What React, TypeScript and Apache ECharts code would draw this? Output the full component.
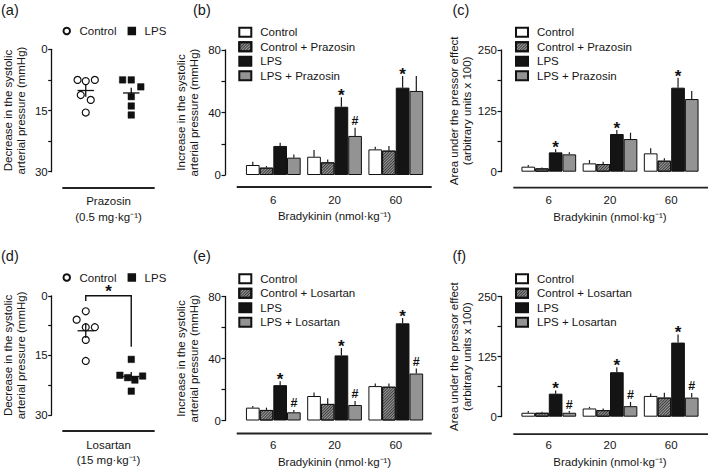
import React, { useEffect, useRef } from "react";
import * as echarts from "echarts";

// ---------------- data ----------------
const doses = ["6", "20", "60"];

// (a) Prazosin — individual animals: [x position (1 = Control, 2 = LPS, jittered), decrease mmHg]
const prazosinControlPoints = [[0.82, 7.5], [1.0, 7.8], [1.2, 7.5], [0.89, 11.2], [1.11, 12.4], [1.0, 15.5]];
const prazosinLpsPoints = [[1.81, 7.5], [2.0, 7.5], [2.21, 9.2], [2.0, 11.6], [2.0, 13.9], [2.0, 16.1]];
const prazosinMeanSem = [[1, 10.1, 1.5], [2, 10.7, 1.3]];

// (d) Losartan
const losartanControlPoints = [[1.0, 3.9], [0.8, 6.0], [1.0, 7.9], [1.2, 7.9], [1.0, 11.1], [1.0, 16.4]];
const losartanLpsPoints = [[2.0, 16.0], [1.75, 20.0], [1.92, 20.6], [2.08, 21.2], [2.25, 20.2], [2.0, 24.0]];
const losartanMeanSem = [[1, 8.8, 1.8], [2, 20.3, 1.1]];
const losartanBracket = [[1, 2, 0, 1.3, 12.8, -1.9]]; // x1, x2, top, left end, right end, star level

const decreaseTicks = [0, 15, 30];
const pressureTicks = [0, 40, 80];
const areaTicks = [0, 125, 250];

// (b) pressure, prazosin
const bControl = [6.4, 11.7, 16.4];
const bControlErr = [2.1, 4.3, 1.7];
const bControlPraz = [4.7, 8.1, 15.6];
const bControlPrazErr = [1.0, 1.9, 3.0];
const bLps = [18.6, 43.7, 55.9];
const bLpsErr = [2.1, 6.0, 7.5];
const bLpsPraz = [11.1, 25.0, 53.8];
const bLpsPrazErr = [2.1, 5.3, 9.6];
const bLpsMarks = ["", "*", "*"];
const bLpsPrazMarks = ["", "#", ""];

// (c) area, prazosin
const cControl = [10.3, 17.1, 37.7];
const cControlErr = [3.4, 6.8, 10.3];
const cControlPraz = [6.8, 15.8, 22.6];
const cControlPrazErr = [2.0, 4.8, 4.8];
const cLps = [39.7, 77.4, 172.6];
const cLpsErr = [6.2, 8.2, 20.5];
const cLpsPraz = [35.6, 67.1, 149.3];
const cLpsPrazErr = [4.1, 13.0, 16.4];
const cLpsMarks = ["*", "*", "*"];
const cLpsPrazMarks = ["", "", ""];

// (e) pressure, losartan
const eControl = [8.3, 15.8, 22.2];
const eControlErr = [1.1, 2.3, 1.7];
const eControlLos = [6.8, 10.7, 21.8];
const eControlLosErr = [1.5, 3.6, 2.1];
const eLps = [22.8, 42.0, 62.7];
const eLpsErr = [2.6, 4.7, 3.4];
const eLpsLos = [5.3, 10.0, 30.3];
const eLpsLosErr = [1.5, 2.6, 3.2];
const eLpsMarks = ["*", "*", "*"];
const eLpsLosMarks = ["#", "#", "#"];

// (f) area, losartan
const fControl = [8.2, 17.1, 43.2];
const fControlErr = [3.4, 3.4, 4.8];
const fControlLos = [8.2, 13.7, 39.7];
const fControlLosErr = [2.0, 3.4, 10.3];
const fLps = [47.9, 92.5, 154.1];
const fLpsErr = [6.8, 10.3, 17.1];
const fLpsLos = [8.2, 21.9, 39.7];
const fLpsLosErr = [3.4, 8.9, 9.6];
const fLpsMarks = ["*", "*", "*"];
const fLpsLosMarks = ["#", "#", "#"];

// ---------------- styling / layout ----------------
const FONT = "'Liberation Sans', Arial, Helvetica, sans-serif";
const INK = "#161616";
const FS = 11.5;
const ROW2 = 246.5;
const BAR_FRACTION = 0.2235;

const controlStyle = { color: "#ffffff", borderColor: "#111", borderWidth: 1 };
const hatchStyle = {
  color: "#9a9a9a",
  borderColor: "#111",
  borderWidth: 1,
  decal: {
    symbol: "rect",
    symbolSize: 1,
    color: "#3c3c3c",
    backgroundColor: "#b8b8b8",
    dashArrayX: [1, 0],
    dashArrayY: [0.9, 0.9],
    rotation: -Math.PI / 4,
  },
};
const lpsStyle = { color: "#141414", borderColor: "#111", borderWidth: 1 };
const lpsDrugStyle = { color: "#939393", borderColor: "#111", borderWidth: 1 };

const tickFormatter = (ticks: number[]) => (v: number) =>
  ticks.some((t) => Math.abs(t - v) < 1e-6) ? String(v) : "";

const nameStyle = { fontSize: FS, lineHeight: 13, color: INK, fontFamily: FONT };

function yAxisDef(gridIndex: number, max: number, interval: number, ticks: number[], name: string, offset: number, nameGap: number, inverse = false) {
  return {
    gridIndex,
    type: "value",
    min: 0,
    max,
    interval,
    inverse,
    offset,
    axisLine: { show: true, onZero: false, lineStyle: { color: "#111", width: 1.3 } },
    axisTick: { show: true, length: 3.5, lineStyle: { color: "#111", width: 1.2 } },
    axisLabel: { margin: 4, fontSize: FS, color: INK, fontFamily: FONT, formatter: tickFormatter(ticks) },
    splitLine: { show: false },
    name,
    nameLocation: "middle",
    nameRotate: 90,
    nameGap,
    nameTextStyle: nameStyle,
  };
}

function barXAxis(gridIndex: number, margin: number, nameGap: number) {
  return {
    gridIndex,
    type: "category",
    data: doses,
    axisLine: { show: false, onZero: false },
    axisTick: { show: false },
    axisLabel: { margin, fontSize: FS, color: INK, fontFamily: FONT },
    name: "Bradykinin (nmol·kg⁻¹)",
    nameLocation: "middle",
    nameGap,
    nameTextStyle: nameStyle,
  };
}

function scatterXAxis(gridIndex: number, name: string, offset: number) {
  return {
    gridIndex,
    type: "value",
    position: "bottom",
    min: 0.5,
    max: 2.5,
    offset,
    axisLine: { show: true, onZero: false, lineStyle: { color: "#222", width: 1.8 } },
    axisTick: { show: false },
    axisLabel: { show: false },
    splitLine: { show: false },
    name,
    nameLocation: "middle",
    nameGap: 6,
    nameTextStyle: { fontSize: FS, lineHeight: 15.5, color: INK, fontFamily: FONT },
  };
}

function barSeries(name: string, gridIndex: number, values: number[], style: any) {
  return {
    type: "bar",
    name,
    xAxisIndex: gridIndex,
    yAxisIndex: gridIndex,
    data: values,
    barWidth: (BAR_FRACTION * 100).toFixed(2) + "%",
    barGap: "0%",
    itemStyle: style,
    z: 2,
  };
}

function errorSeries(gridIndex: number, k: number, values: number[], errs: number[], marks: string[]) {
  return {
    type: "custom",
    xAxisIndex: gridIndex,
    yAxisIndex: gridIndex,
    z: 5,
    silent: true,
    data: values.map((v, i) => [i, v, errs[i]]),
    encode: { x: 0, y: 1 },
    renderItem: (params: any, api: any) => {
      const ci = api.value(0);
      const m = api.value(1);
      const e = api.value(2);
      const band = api.size([1, 0])[0];
      const bw = band * BAR_FRACTION;
      const p = api.coord([ci, m]);
      const x = p[0] + (k - 1.5) * bw;
      const yTop = api.coord([ci, m + e])[1];
      const children: any[] = [
        { type: "line", shape: { x1: x, y1: p[1], x2: x, y2: yTop }, style: { stroke: "#1a1a1a", lineWidth: 1.2 } },
      ];
      const mk = marks[params.dataIndex];
      if (mk) {
        const star = mk === "*";
        children.push({
          type: "text",
          x,
          y: yTop + (star ? -1.5 : -6.5),
          style: {
            text: mk,
            align: "center",
            verticalAlign: "middle",
            fontSize: star ? 17 : 12.5,
            lineHeight: star ? 10 : 12,
            fontWeight: "bold",
            fontFamily: FONT,
            fill: "#111",
          },
        });
      }
      return { type: "group", children };
    },
  };
}

function meanSemSeries(gridIndex: number, data: number[][]) {
  return {
    type: "custom",
    xAxisIndex: gridIndex,
    yAxisIndex: gridIndex,
    z: 6,
    silent: true,
    data,
    encode: { x: 0, y: 1 },
    renderItem: (_p: any, api: any) => {
      const x = api.value(0);
      const m = api.value(1);
      const s = api.value(2);
      const c = api.coord([x, m]);
      const half = api.size([0.18, 0])[0];
      const lo = api.coord([x, m - s])[1];
      const hi = api.coord([x, m + s])[1];
      return {
        type: "group",
        children: [
          { type: "line", shape: { x1: c[0] - half, y1: c[1], x2: c[0] + half, y2: c[1] }, style: { stroke: "#111", lineWidth: 1.3 } },
          { type: "line", shape: { x1: c[0], y1: lo, x2: c[0], y2: hi }, style: { stroke: "#111", lineWidth: 1.3 } },
        ],
      };
    },
  };
}

function bracketSeries(gridIndex: number, data: number[][]) {
  return {
    type: "custom",
    xAxisIndex: gridIndex,
    yAxisIndex: gridIndex,
    z: 6,
    silent: true,
    clip: false,
    data,
    encode: { x: 0, y: 2 },
    renderItem: (_p: any, api: any) => {
      const x1 = api.value(0);
      const x2 = api.value(1);
      const top = api.value(2);
      const l = api.value(3);
      const r = api.value(4);
      const s = api.value(5);
      const a = api.coord([x1, l]);
      const b = api.coord([x1, top]);
      const c = api.coord([x2, top]);
      const d = api.coord([x2, r]);
      const st = api.coord([(x1 + x2) / 2, s]);
      return {
        type: "group",
        children: [
          { type: "polyline", shape: { points: [a, b, c, d] }, style: { stroke: "#111", lineWidth: 1.4, fill: "none" } },
          { type: "text", x: st[0], y: st[1] + 3, style: { text: "*", align: "center", verticalAlign: "middle", fontSize: 17, lineHeight: 10, fontWeight: "bold", fontFamily: FONT, fill: "#111" } },
        ],
      };
    },
  };
}

function scatter(name: string, gridIndex: number, data: number[][], open: boolean) {
  return {
    type: "scatter",
    name,
    xAxisIndex: gridIndex,
    yAxisIndex: gridIndex,
    data,
    symbol: open ? "circle" : "rect",
    symbolSize: open ? 7 : 6.5,
    itemStyle: open
      ? { color: "#fff", borderColor: "#111", borderWidth: 1.2, opacity: 1 }
      : { color: "#111", borderColor: "#111", borderWidth: 0.5, opacity: 1 },
    z: 4,
  };
}

const legendFormatter = (name: string) => name.split("|")[0];

function scatterLegend(top: number, names: string[]) {
  return {
    left: 57.5,
    top,
    orient: "horizontal",
    itemWidth: 6.5,
    itemHeight: 6.5,
    itemGap: 11,
    selectedMode: false,
    data: names,
    formatter: legendFormatter,
    textStyle: { fontSize: FS, lineHeight: 12, color: INK, fontFamily: FONT, padding: [0, 0, 0, 4.5] },
  };
}

function barLegend(left: number, top: number, names: string[]) {
  return {
    left,
    top,
    orient: "vertical",
    icon: "rect",
    itemWidth: 12,
    itemHeight: 9,
    itemGap: 2.5,
    selectedMode: false,
    data: names,
    formatter: legendFormatter,
    textStyle: { fontSize: FS, lineHeight: 12, color: INK, fontFamily: FONT, padding: [0, 0, 0, 4] },
  };
}

function panelLetter(text: string, x: number, y: number) {
  return { type: "text", left: x, top: y, style: { text, fontSize: 14.5, fontFamily: FONT, fill: INK } };
}

function baseline(x1: number, x2: number, y: number) {
  return { type: "line", shape: { x1, y1: y, x2, y2: y }, style: { stroke: "#222", lineWidth: 1.8 } };
}

function buildOption() {
  const grids = [
    { left: 63, top: 49.3, width: 91, height: 122.4 },
    { left: 242.7, top: 50, width: 183.7, height: 125 },
    { left: 518.2, top: 50, width: 183.6, height: 121.7 },
    { left: 63, top: 49.3 + ROW2, width: 91, height: 122.4 },
    { left: 242.7, top: 50 + ROW2, width: 183.7, height: 125 },
    { left: 518.2, top: 50 + ROW2, width: 183.6, height: 121.7 },
  ];

  const bNames = ["Control|b", "Control + Prazosin|b", "LPS|b", "LPS + Prazosin|b"];
  const cNames = ["Control|c", "Control + Prazosin|c", "LPS|c", "LPS + Prazosin|c"];
  const eNames = ["Control|e", "Control + Losartan|e", "LPS|e", "LPS + Losartan|e"];
  const fNames = ["Control|f", "Control + Losartan|f", "LPS|f", "LPS + Losartan|f"];
  const styles = [controlStyle, hatchStyle, lpsStyle, lpsDrugStyle];

  const barPanel = (g: number, names: string[], vals: number[][], errs: number[][], marks: string[][]) => {
    const out: any[] = [];
    names.forEach((n, k) => out.push(barSeries(n, g, vals[k], styles[k])));
    names.forEach((_n, k) => out.push(errorSeries(g, k, vals[k], errs[k], marks[k])));
    return out;
  };
  const none = ["", "", ""];

  const series = [
    scatter("Control|a", 0, prazosinControlPoints, true),
    scatter("LPS|a", 0, prazosinLpsPoints, false),
    meanSemSeries(0, prazosinMeanSem),
    scatter("Control|d", 3, losartanControlPoints, true),
    scatter("LPS|d", 3, losartanLpsPoints, false),
    meanSemSeries(3, losartanMeanSem),
    bracketSeries(3, losartanBracket),
    ...barPanel(1, bNames, [bControl, bControlPraz, bLps, bLpsPraz], [bControlErr, bControlPrazErr, bLpsErr, bLpsPrazErr], [none, none, bLpsMarks, bLpsPrazMarks]),
    ...barPanel(2, cNames, [cControl, cControlPraz, cLps, cLpsPraz], [cControlErr, cControlPrazErr, cLpsErr, cLpsPrazErr], [none, none, cLpsMarks, cLpsPrazMarks]),
    ...barPanel(4, eNames, [eControl, eControlLos, eLps, eLpsLos], [eControlErr, eControlLosErr, eLpsErr, eLpsLosErr], [none, none, eLpsMarks, eLpsLosMarks]),
    ...barPanel(5, fNames, [fControl, fControlLos, fLps, fLpsLos], [fControlErr, fControlLosErr, fLpsErr, fLpsLosErr], [none, none, fLpsMarks, fLpsLosMarks]),
  ];

  const decName = "Decrease in the systolic\narterial pressure (mmHg)";
  const incName = "Increase in the systolic\narterial pressure (mmHg)";
  const areaName = "Area under the pressor effect\n(arbitrary units x 100)";

  return {
    animation: false,
    textStyle: { fontFamily: FONT },
    grid: grids,
    xAxis: [
      scatterXAxis(0, "Prazosin\n(0.5 mg·kg⁻¹)", 16),
      barXAxis(1, 18.5, 34.5),
      barXAxis(2, 21.8, 38.3),
      scatterXAxis(3, "Losartan\n(15 mg·kg⁻¹)", 16),
      barXAxis(4, 18.5, 34.5),
      barXAxis(5, 21.8, 38.3),
    ],
    yAxis: [
      yAxisDef(0, 30, 7.5, decreaseTicks, decName, 11.3, 24, true),
      yAxisDef(1, 80, 20, pressureTicks, incName, 17.7, 25),
      yAxisDef(2, 250, 62.5, areaTicks, areaName, 17.2, 25),
      yAxisDef(3, 30, 7.5, decreaseTicks, decName, 11.3, 24, true),
      yAxisDef(4, 80, 20, pressureTicks, incName, 17.7, 25),
      yAxisDef(5, 250, 62.5, areaTicks, areaName, 17.2, 25),
    ],
    legend: [
      scatterLegend(20, ["Control|a", "LPS|a"]),
      scatterLegend(20 + ROW2, ["Control|d", "LPS|d"]),
      barLegend(233.3, 21.3, bNames),
      barLegend(510, 21.3, cNames),
      barLegend(233.3, 21.3 + ROW2, eNames),
      barLegend(510, 21.3 + ROW2, fNames),
    ],
    graphic: [
      panelLetter("(a)", 1, 2),
      panelLetter("(b)", 193, 2),
      panelLetter("(c)", 452.5, 2),
      panelLetter("(d)", 1, 2 + ROW2),
      panelLetter("(e)", 193, 2 + ROW2),
      panelLetter("(f)", 452.5, 2 + ROW2),
      baseline(236.7, 431.7, 187),
      baseline(513.3, 708, 187.7),
      baseline(236.7, 431.7, 187 + ROW2),
      baseline(513.3, 708, 187.7 + ROW2),
    ],
    series,
  };
}

export default function App() {
  const ref = useRef<HTMLDivElement>(null);
  useEffect(() => {
    document.body.style.margin = "0";
    const chart = echarts.init(ref.current as HTMLDivElement, null, { renderer: "svg" });
    chart.setOption(buildOption() as any);
    return () => chart.dispose();
  }, []);
  return <div ref={ref} style={{ width: 709, height: 469, background: "#fff" }} />;
}
